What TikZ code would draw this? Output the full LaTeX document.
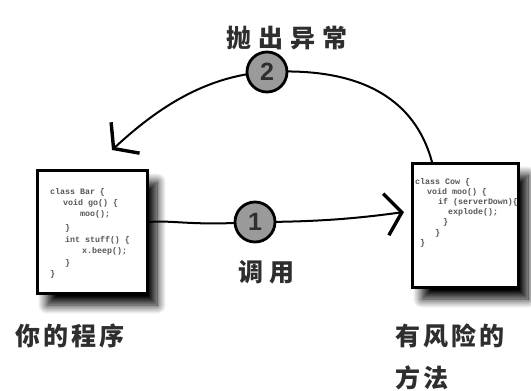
\documentclass[tikz,border=0pt]{standalone}
\usepackage{fontspec}
\setmainfont{Liberation Sans}
\setmonofont{Liberation Mono}
\newfontfamily\cjk{Noto Sans CJK SC}
\usetikzlibrary{arrows.meta,shadows.blur}
\definecolor{inkgray}{HTML}{2E2E2E}
\definecolor{codegray}{HTML}{555555}
\definecolor{discgray}{HTML}{9A9A9A}
\tikzset{
  codebox/.style={draw=black,line width=3pt,fill=white,minimum width=#1,
    blur shadow={shadow xshift=10pt,shadow yshift=-12pt,shadow blur steps=14,shadow blur radius=9pt,shadow opacity=100}},
  numdisc/.style={circle,draw=black,line width=2.8pt,fill=discgray,minimum size=40pt,inner sep=0pt,
    font=\fontsize{25}{25}\selectfont\bfseries,text=inkgray},
  connector/.style={draw=black,line width=2pt},
  bigbarb/.style={-{Straight Barb[length=16pt,width=42pt,line width=3.4pt]}},
  hand/.style={font=\cjk\bfseries\fontsize{25}{30}\selectfont,text=inkgray,inner sep=0pt},
  code/.style={font=\ttfamily\bfseries\fontsize{8.3}{8.3}\selectfont,text=codegray,anchor=west,inner sep=0pt}
}
\begin{document}
\begin{tikzpicture}[x=1pt,y=-1pt]
\useasboundingbox (0,0) rectangle (531,391);
% boxes
\node[codebox=110pt,minimum height=123pt] (lbox) at (92,231.5) {};
\node[codebox=106pt,minimum height=124pt] (rbox) at (465,225) {};
% code, left
\node[code] (l1) at (50,192) {class Bar \{};
\node[code] (l2) at (63,203) {void go() \{};
\node[code] (l3) at (80,214) {moo();};
\node[code] (l4) at (65,228) {\}};
\node[code] (l5) at (65,240) {int stuff() \{};
\node[code] (l6) at (82,251) {x.beep();};
\node[code] (l7) at (65,263) {\}};
\node[code] (l8) at (50,274) {\}};
% code, right
\node[code] (r1) at (415,182) {class Cow \{};
\node[code] (r2) at (427,192) {void moo() \{};
\node[code] (r3) at (438,202) {if (serverDown)\{};
\node[code] (r4) at (448,212) {explode();};
\node[code] (r5) at (443,222) {\}};
\node[code] (r6) at (435,233) {\}};
\node[code] (r7) at (420,243) {\}};
% coordinates for connectors
\coordinate (a1start) at (149,222);
\coordinate (a1tip) at (404,212);
\coordinate (a2start) at (432,162);
\coordinate (a2tip) at (112,150);
\coordinate (c1pos) at (255,222);
\coordinate (c2pos) at (267,72);
% connectors
\draw[connector] (a1start) .. controls (175,220) and (190,226) .. (c1pos);
\draw[connector,bigbarb] (c1pos) .. controls (320,222) and (360,218) .. (a1tip);
\draw[connector] (a2start) .. controls (418,110) and (375,66) .. (c2pos);
\draw[connector,bigbarb] (c2pos) .. controls (200,76) and (150,115) .. (a2tip);
% discs
\node[numdisc] (c1) at (c1pos) {1};
\node[numdisc] (c2) at (c2pos) {2};
% labels
\node[hand] (t2) at (287,38) {抛\hspace{7pt}出\hspace{7pt}异\hspace{7pt}常};
\node[hand] (t1) at (266,272) {调\hspace{6pt}用};
\node[hand,anchor=west] (tl) at (15,336) {你\hspace{3pt}的\hspace{3pt}程\hspace{3pt}序};
\node[hand,anchor=west] (tr1) at (395,336) {有\hspace{3pt}风\hspace{3pt}险\hspace{3pt}的};
\node[hand,anchor=west] (tr2) at (395,378) {方\hspace{3pt}法};
\end{tikzpicture}
\end{document}
